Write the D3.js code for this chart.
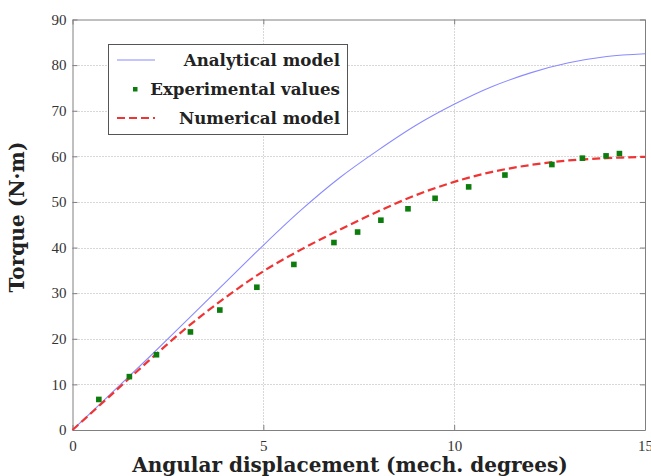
<!DOCTYPE html>
<html><head><meta charset="utf-8">
<script src="https://cdn.jsdelivr.net/npm/d3@7"></script>
<style>html,body{margin:0;padding:0;background:#fff;overflow:hidden}</style>
</head><body>
<svg id="c" width="651" height="476"></svg>
<script>
const xTicks = [0, 5, 10, 15];
const yTicks = [0, 10, 20, 30, 40, 50, 60, 70, 80, 90];
const analyticalX = [0, 1, 2, 3, 4, 5, 6, 7, 8, 9, 10, 11, 12, 13, 14, 15];
const analyticalY = [0, 7.9, 15.9, 24.1, 32.3, 40.5, 48.3, 55.3, 61.3, 66.8, 71.4, 75.3, 78.3, 80.5, 81.9, 82.5];
const numericalX = [0, 1, 2, 3, 4, 5, 6, 7, 8, 9, 10, 11, 12, 13, 14, 15];
const numericalY = [0, 7.6, 15.2, 22.5, 29.0, 34.8, 39.6, 43.9, 47.9, 51.5, 54.4, 56.6, 58.1, 59.1, 59.6, 59.9];
const expX = [0.69, 1.49, 2.2, 3.09, 3.86, 4.83, 5.8, 6.85, 7.47, 8.08, 8.79, 9.5, 10.38, 11.33, 12.56, 13.36, 13.98, 14.33];
const expY = [6.7, 11.7, 16.5, 21.5, 26.3, 31.3, 36.3, 41.1, 43.4, 46.0, 48.5, 50.8, 53.3, 55.9, 58.2, 59.6, 60.1, 60.6];
const legendLabels = ["Analytical model", "Experimental values", "Numerical model"];

const svg = d3.select("#c");
const L = 72.5, R = 645, T = 19.5, B = 430;
const x = d3.scaleLinear().domain([0, 15]).range([L, R]);
const y = d3.scaleLinear().domain([0, 90]).range([B, T]);
const serif = "'Liberation Serif', 'DejaVu Serif', serif";
const boldSerif = "'DejaVu Serif', 'Liberation Serif', serif";

function fit(sel, target) {
  const w = sel.node().getComputedTextLength();
  const fs = parseFloat(sel.attr("font-size"));
  sel.attr("font-size", (fs * target / w).toFixed(2));
}

// grid
const grid = svg.append("g").attr("stroke", "#b0b0b0").attr("stroke-width", 1).attr("stroke-dasharray", "1,2");
grid.selectAll(".gx").data(xTicks.slice(1, -1)).join("line")
  .attr("x1", d => Math.round(x(d)) + 0.5).attr("x2", d => Math.round(x(d)) + 0.5).attr("y1", T).attr("y2", B);
grid.selectAll(".gy").data(yTicks.slice(1, -1)).join("line")
  .attr("y1", d => Math.round(y(d)) + 0.5).attr("y2", d => Math.round(y(d)) + 0.5).attr("x1", L).attr("x2", R);

// axes
const axB = svg.append("g").attr("transform", `translate(0,${B})`)
  .call(d3.axisBottom(x).tickValues(xTicks).tickSizeInner(-5).tickSizeOuter(0).tickPadding(10));
const axL = svg.append("g").attr("transform", `translate(${L},0)`)
  .call(d3.axisLeft(y).tickValues(yTicks).tickSizeInner(-5).tickSizeOuter(0).tickPadding(6));
const axT = svg.append("g").attr("transform", `translate(0,${T})`)
  .call(d3.axisTop(x).tickValues(xTicks).tickSizeInner(-5).tickSizeOuter(0).tickFormat(""));
const axR = svg.append("g").attr("transform", `translate(${R},0)`)
  .call(d3.axisRight(y).tickValues(yTicks).tickSizeInner(-5).tickSizeOuter(0).tickFormat(""));
[axB, axL, axT, axR].forEach(a => {
  a.selectAll("path,line").attr("stroke", "#808080");
  a.selectAll("text").attr("font-family", serif).attr("font-size", 15).attr("fill", "#333");
});

// lines
const ana = analyticalX.map((d, i) => [d, analyticalY[i]]);
const num = numericalX.map((d, i) => [d, numericalY[i]]);
const line = d3.line().x(d => x(d[0])).y(d => y(d[1])).curve(d3.curveCatmullRom.alpha(0.5));
svg.append("path").attr("d", line(ana)).attr("fill", "none").attr("stroke", "#8a8aff").attr("stroke-width", 1.1);
svg.append("path").attr("d", line(num)).attr("fill", "none").attr("stroke", "#f03434").attr("stroke-width", 2.2).attr("stroke-dasharray", "8,4");

// experimental points
svg.selectAll(".pt").data(expX.map((d, i) => [d, expY[i]])).join("rect")
  .attr("x", d => x(d[0]) - 2.8).attr("y", d => y(d[1]) - 2.8).attr("width", 5.6).attr("height", 5.6)
  .attr("fill", "#0c7c0c");

// legend
const lg = svg.append("g");
lg.append("rect").attr("x", 108.5).attr("y", 44.5).attr("width", 239).attr("height", 90)
  .attr("fill", "#fff").attr("stroke", "#555").attr("stroke-width", 1);
const rowY = [60, 89, 118];
lg.append("line").attr("x1", 117).attr("x2", 155).attr("y1", rowY[0]).attr("y2", rowY[0]).attr("stroke", "#8a8aff").attr("stroke-width", 1.1);
lg.append("rect").attr("x", 133).attr("y", rowY[1] - 2).attr("width", 4.5).attr("height", 4.5).attr("fill", "#0c7c0c");
lg.append("line").attr("x1", 117).attr("x2", 155).attr("y1", rowY[2]).attr("y2", rowY[2]).attr("stroke", "#f03434").attr("stroke-width", 2.2).attr("stroke-dasharray", "8,4");
const lt = lg.selectAll(".lt").data(legendLabels).join("text")
  .attr("x", 340).attr("y", (d, i) => rowY[i]).attr("dy", "0.35em").attr("text-anchor", "end")
  .attr("font-family", boldSerif).attr("font-weight", "bold").attr("font-size", 15).attr("fill", "#222")
  .text(d => d);
fit(d3.select(lt.nodes()[1]), 190);
lt.attr("font-size", d3.select(lt.nodes()[1]).attr("font-size"));

// axis labels
const xl = svg.append("text").attr("x", 350).attr("y", 465).attr("dy", "0.35em").attr("text-anchor", "middle")
  .attr("font-family", boldSerif).attr("font-weight", "bold").attr("font-size", 17).attr("fill", "#222")
  .text("Angular displacement (mech. degrees)");
fit(xl, 436);
const yl = svg.append("text").attr("transform", "translate(17,217) rotate(-90)").attr("dy", "0.35em").attr("text-anchor", "middle")
  .attr("font-family", boldSerif).attr("font-weight", "bold").attr("font-size", 17).attr("fill", "#222")
  .text("Torque (N·m)");
fit(yl, 151);
</script>
</body></html>
